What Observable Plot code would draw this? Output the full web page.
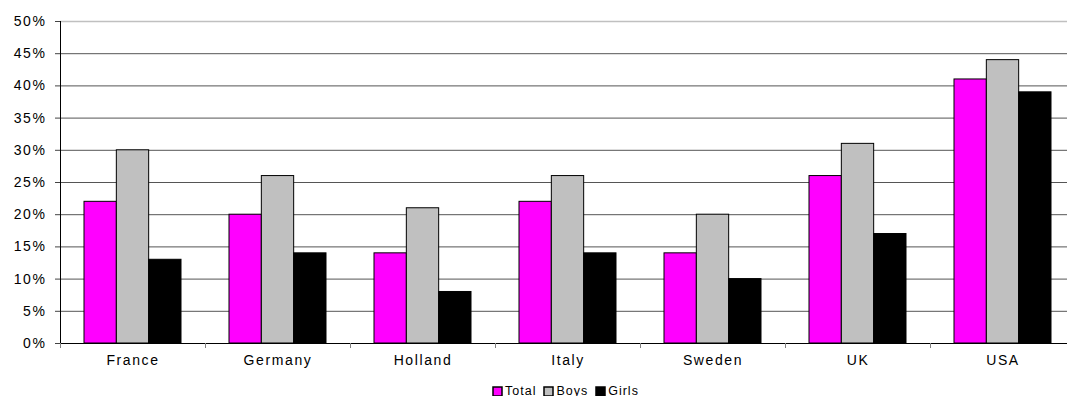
<!DOCTYPE html>
<html><head><meta charset="utf-8">
<script src="https://cdn.jsdelivr.net/npm/d3@7"></script>
<script src="https://cdn.jsdelivr.net/npm/@observablehq/plot@0.6"></script>
<style>
html,body{margin:0;padding:0;background:#fff;overflow:hidden;}
#chart svg{display:block;max-width:none;}
#legend{position:absolute;top:385px;left:493px;}
#legend > div{min-height:0 !important;margin:0 !important;font-family:'Liberation Sans',Arial,sans-serif !important;font-size:12.5px !important;letter-spacing:1px;color:#000 !important;line-height:12px !important;display:flex !important;align-items:center !important;}
#legend > div > span{margin-right:8px !important;display:inline-flex;align-items:center;color:#000;}
#legend svg{margin-right:3px !important;}
#legend svg rect{stroke:#000;stroke-width:1.5px;}
</style></head>
<body><div id="chart"></div><div id="legend"></div>
<script>
const countries = ["France","Germany","Holland","Italy","Sweden","UK","USA"];
const series = ["Total","Boys","Girls"];
const total = [22,20,14,22,14,26,41];
const boys  = [30,26,21,26,20,31,44];
const girls = [13,14,8,14,10,17,39];
const colors = ["#ff00ff","#c0c0c0","#000000"];
const yTicks = [0,5,10,15,20,25,30,35,40,45,50];

// group layout within each category unit (fractions of a category slot)
const groupStart = 0.1655, groupWidth = 0.669;
const barW = groupWidth / series.length;

const data = countries.flatMap((c,i)=>[total[i], boys[i], girls[i]].map((v,j)=>({
  country:c, series:series[j], value:v/100,
  x1: i + groupStart + j*barW, x2: i + groupStart + (j+1)*barW
})));
const tickVals = yTicks.map(t=>t/100);
const catCenters = countries.map((c,i)=>i+0.5);
const catBounds = d3.range(countries.length+1);

const chart = Plot.plot({
  width:1067, height:372,
  marginLeft:60, marginRight:-8, marginTop:21, marginBottom:29,
  style:{fontFamily:"'Liberation Sans', Arial, sans-serif", fontSize:"14px", color:"#000", background:"#fff", overflow:"hidden", letterSpacing:"1.6px"},
  x:{type:"linear", domain:[0,countries.length], axis:null},
  y:{domain:[0,0.5], axis:null},
  color:{domain:series, range:colors},
  marks:[
    Plot.ruleY(tickVals.filter(t=>t>0 && t<0.5), {stroke:"#555", strokeWidth:1}),
    Plot.ruleY([0.5], {stroke:"#c0c0c0", strokeWidth:1.5}),
    Plot.rectY(data, {x1:"x1", x2:"x2", y1:0, y2:"value", fill:"series", stroke:"#000", strokeWidth:1}),
    Plot.ruleY([0], {stroke:"#000"}),
    Plot.ruleX([0], {stroke:"#000"}),
    Plot.axisY({ticks:tickVals, tickFormat:d3.format(".0%"), tickSize:5, tickPadding:9, stroke:"#444", fill:"#000", label:null}),
    Plot.axisX({ticks:catCenters, tickFormat:d=>countries[Math.round(d-0.5)], tickSize:0, tickPadding:12, fill:"#000", label:null}),
    Plot.axisX({ticks:catBounds, text:null, tickSize:5, stroke:"#808080", label:null})
  ]
});
document.getElementById("chart").appendChild(chart);

const lg = Plot.legend({color:{domain:series, range:colors}, legend:"swatches", swatchSize:9, className:"lg"});
document.getElementById("legend").appendChild(lg);
</script>
</body></html>
